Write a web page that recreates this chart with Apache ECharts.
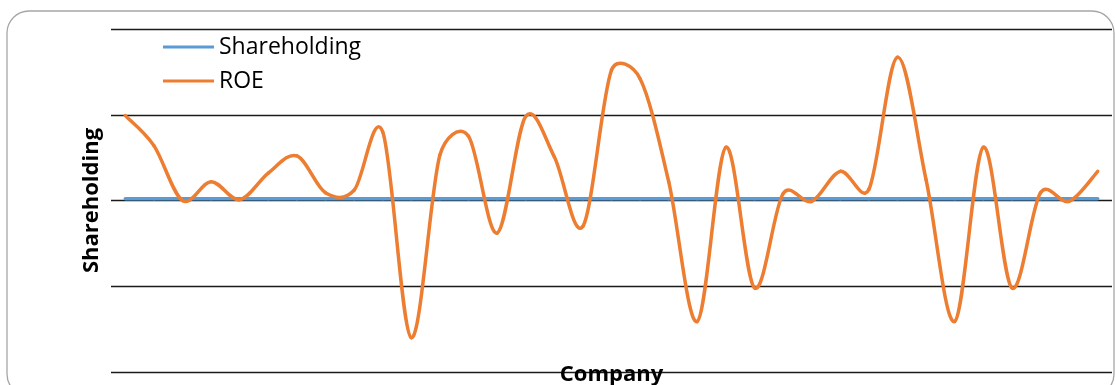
<!DOCTYPE html>
<html>
<head>
<meta charset="utf-8">
<script src="https://cdn.jsdelivr.net/npm/echarts@6/dist/echarts.min.js"></script>
<style>
  html, body { margin: 0; padding: 0; background: #ffffff; }
  #chart { width: 1115px; height: 385px; }
</style>
</head>
<body>
<div id="chart"></div>
<script>
// Companies along the horizontal axis (labels hidden on the chart)
const companies = ['1','2','3','4','5','6','7','8','9','10','11','12','13','14','15','16','17','18',
  '19','20','21','22','23','24','25','26','27','28','29','30','31','32','33','34','35'];

// Shareholding per company
const shareholding = [0.02,0.02,0.02,0.02,0.02,0.02,0.02,0.02,0.02,0.02,0.02,0.02,0.02,0.02,0.02,0.02,0.02,0.02,
  0.02,0.02,0.02,0.02,0.02,0.02,0.02,0.02,0.02,0.02,0.02,0.02,0.02,0.02,0.02,0.02,0.02];

// ROE per company
const roe = [0.99,0.64,0.00,0.22,0.01,0.32,0.52,0.09,0.12,0.80,-1.60,0.53,0.75,-0.38,0.98,0.51,-0.30,1.52,
  1.42,0.22,-1.41,0.62,-1.02,0.08,-0.01,0.34,0.13,1.67,0.24,-1.41,0.62,-1.02,0.09,-0.01,0.34];

// Value axis range and step
const yMin = -2, yMax = 2, yStep = 1;

const font = '"Open Sans", "Noto Sans", sans-serif';

// Smoothed line drawn segment by segment as cubic Béziers.
// Control points follow the neighbouring points (1/6 of the span),
// limited to half of the segment length so steep turns do not bulge.
function smoothSegment(width) {
  return function (params, api) {
    const i = params.dataIndexInside;
    const n = params.dataInsideLength;
    if (i >= n - 1) return null;
    const pt = j => api.coord([api.value(0, j), api.value(1, j)]);
    const p1 = pt(i), p2 = pt(i + 1);
    const p0 = i > 0 ? pt(i - 1) : p1;
    const p3 = i + 2 < n ? pt(i + 2) : p2;
    const dist = (a, b) => Math.hypot(b[0] - a[0], b[1] - a[1]);
    const d12 = dist(p1, p2), d02 = dist(p0, p2), d13 = dist(p1, p3);
    const f0 = d02 > 0 ? Math.min(1 / 6, d12 / (2 * d02)) : 0;
    const f1 = d13 > 0 ? Math.min(1 / 6, d12 / (2 * d13)) : 0;
    return {
      type: 'bezierCurve',
      silent: true,
      shape: {
        x1: p1[0], y1: p1[1], x2: p2[0], y2: p2[1],
        cpx1: p1[0] + f0 * (p2[0] - p0[0]), cpy1: p1[1] + f0 * (p2[1] - p0[1]),
        cpx2: p2[0] - f1 * (p3[0] - p1[0]), cpy2: p2[1] - f1 * (p3[1] - p1[1])
      },
      style: { stroke: api.visual('color'), fill: 'none', lineWidth: width, lineCap: 'round' }
    };
  };
}

const chart = echarts.init(document.getElementById('chart'), null, { renderer: 'canvas' });

chart.setOption({
  animation: false,
  backgroundColor: '#ffffff',
  graphic: [{
    type: 'rect',
    shape: { x: 7, y: 11, width: 1107, height: 385, r: 22 },
    style: { fill: 'none', stroke: '#a6a6a6', lineWidth: 1.3 },
    silent: true,
    z: -1
  }],
  grid: { left: 111, right: 3, top: 29, bottom: 13, containLabel: false, outerBoundsMode: 'none' },
  legend: {
    orient: 'vertical',
    left: 163,
    top: 35,
    bottom: null,
    padding: 0,
    itemWidth: 51,
    itemHeight: 3,
    itemGap: 10,
    textStyle: { fontFamily: font, fontSize: 23, color: '#000', lineHeight: 24 },
    data: [
      { name: 'Shareholding', icon: 'rect' },
      { name: 'ROE', icon: 'rect' }
    ]
  },
  xAxis: {
    type: 'category',
    data: companies,
    boundaryGap: true,
    axisLine: { show: false, onZero: false },
    axisTick: { show: false },
    axisLabel: { show: false },
    splitLine: { show: false },
    name: 'Company',
    nameLocation: 'middle',
    nameGap: -8,
    nameTextStyle: { fontFamily: font, fontSize: 22, fontWeight: 'bold', color: '#000' }
  },
  yAxis: {
    type: 'value',
    min: yMin,
    max: yMax,
    interval: yStep,
    axisLine: { show: false },
    axisTick: { show: false },
    axisLabel: { show: false },
    splitLine: { show: true, lineStyle: { color: '#1a1a1a', width: 1.3 } },
    name: 'Shareholding',
    nameLocation: 'middle',
    nameRotate: 90,
    nameGap: 8,
    nameTextStyle: { fontFamily: font, fontSize: 22, fontWeight: 'bold', color: '#000' }
  },
  series: [
    {
      name: 'Shareholding',
      type: 'custom',
      data: shareholding.map((v, i) => [i, v]),
      encode: { x: 0, y: 1 },
      itemStyle: { color: '#5B9BD5' },
      renderItem: smoothSegment(3.5),
      z: 2
    },
    {
      name: 'ROE',
      type: 'custom',
      data: roe.map((v, i) => [i, v]),
      encode: { x: 0, y: 1 },
      itemStyle: { color: '#ED7D31' },
      renderItem: smoothSegment(3.5),
      z: 3
    }
  ]
});
</script>
</body>
</html>
